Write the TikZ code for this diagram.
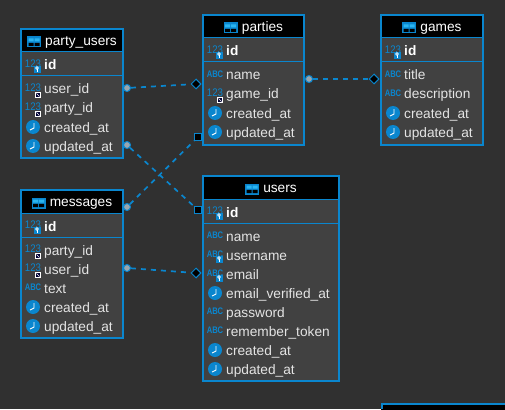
\documentclass[tikz,border=0pt]{standalone}
\usepackage{fontspec}
\setmainfont{Liberation Sans}
\usetikzlibrary{shapes.geometric}

\definecolor{canvasgray}{HTML}{303030}
\definecolor{bodygray}{HTML}{414141}
\definecolor{linkblue}{HTML}{0A86CE}
\definecolor{cellblue}{HTML}{2BB5F0}
\definecolor{dotgray}{HTML}{9AA6AE}
\definecolor{rowtext}{HTML}{E4E4E4}

\tikzset{
	tablebox/.style={draw=linkblue, line width=2pt, fill=bodygray, anchor=north west, inner sep=0pt, outer sep=0pt},
	headbox/.style={fill=black, anchor=north west, inner sep=0pt, outer sep=0pt},
	titletext/.style={text=white, font=\fontsize{13.7}{15}\selectfont, inner sep=0pt, text height=10pt, text depth=3pt},
	idtext/.style={text=white, font=\bfseries\fontsize{13.7}{15}\selectfont, anchor=west, inner sep=0pt, text height=10pt, text depth=3pt},
	rowlabel/.style={text=rowtext, font=\fontsize{13.7}{15}\selectfont, anchor=west, inner sep=0pt, text height=10pt, text depth=3pt},
	link/.style={draw=linkblue, line width=1.7pt, dash pattern=on 5pt off 5pt},
	linkdot/.style={circle, draw=linkblue, fill=dotgray, line width=1pt, minimum size=7pt, inner sep=0pt},
	linkdiamond/.style={diamond, draw=linkblue, fill=black, line width=1pt, minimum size=10pt, inner sep=0pt},
	linksquare/.style={rectangle, draw=linkblue, fill=black, line width=1pt, minimum size=7pt, inner sep=0pt},
	pics/numplain/.style={code={
		\node[text=linkblue, font=\fontsize{11}{12}\selectfont, xscale=.88, transform shape, inner sep=0pt] at (0,-1) {123};
	}},
	pics/keybadge/.style={code={
		\fill[linkblue] (0.5,-1) rectangle (7.5,6);
		\draw[white, line width=.8pt] (4,1) circle (1.4);
		\draw[white, line width=.8pt] (4,2.4) -- (4,5);
	}},
	pics/fkbadge/.style={code={
		\fill[white] (1,0) rectangle (7,6);
		\fill[black!80!blue] (2,1) rectangle (6,5);
		\draw[white, line width=.7pt] (2.5,1.5) -- (5.5,4.5);
	}},
	pics/numkey/.style={code={
		\pic at (0,0) {numplain};
		\pic at (0,2) {keybadge};
	}},
	pics/numfk/.style={code={
		\pic at (0,0) {numplain};
		\pic at (1,3) {fkbadge};
	}},
	pics/abc/.style={code={
		\node[text=linkblue, font=\bfseries\fontsize{9.5}{10}\selectfont, xscale=.8, transform shape, inner sep=0pt] at (0,-1) {ABC};
	}},
	pics/abckey/.style={code={
		\pic at (0,0) {abc};
		\pic at (0,2) {keybadge};
	}},
	pics/clock/.style={code={
		\fill[linkblue] (0,0) circle (7);
		\draw[white, line width=.9pt] (1,-4) -- (1,1) -- (-3,3);
	}},
	pics/tableicon/.style={code={
		\fill[linkblue] (-7,-5.5) rectangle (7,5.5);
		\fill[cellblue] (-5.5,-3.5) rectangle (-.5,-.5) (.5,-3.5) rectangle (5.5,-.5);
		\fill[black] (-5.5,.8) rectangle (-.5,4) (.5,.8) rectangle (5.5,4);
	}},
}

% name, title, left, top, width, height, id icon, rows
\newcommand{\dbtable}[8]{
	\node[tablebox, minimum width=#5pt, minimum height=#6pt] (#1) at (#3,#4) {};
	\fill[black] (#3+1,#4+1) rectangle (#3+#5-1,#4+23);
	\draw[linkblue, line width=1pt] (#3,#4+23) -- +(#5,0);
	\draw[linkblue, line width=1pt] (#3,#4+47) -- +(#5,0);
	\node[titletext] (#1-title) at (#3+#5/2+9,#4+13) {#2};
	\path (#1-title.west) pic[xshift=-11pt] {tableicon};
	\pic at (#3+12,#4+36) {#7};
	\node[idtext] (#1-id) at (#3+23,#4+37.5) {id};
	\foreach \ico/\txt [count=\n from 0] in {#8} {
		\pgfmathsetmacro{\rowy}{#4+60+19*\n}
		\pic at (#3+12,\rowy) {\ico};
		\node[rowlabel] (#1-row\n) at (#3+23,\rowy+1.5) {\txt};
	}
}

\begin{document}
\begin{tikzpicture}[x=1pt, y=-1pt]
	\fill[canvasgray] (0,0) rectangle (505,409);
	\useasboundingbox (0,0) rectangle (505,409);

	% tables
	\dbtable{partyusers}{party\_users}{21}{29}{102}{129}{numkey}{numfk/user\_id, numfk/party\_id, clock/created\_at, clock/updated\_at}
	\dbtable{parties}{parties}{203}{15}{101}{130}{numkey}{abc/name, numfk/game\_id, clock/created\_at, clock/updated\_at}
	\dbtable{games}{games}{381}{15}{102}{130}{numkey}{abc/title, abc/description, clock/created\_at, clock/updated\_at}
	\dbtable{messages}{messages}{21}{190}{102}{148}{numkey}{numfk/party\_id, numfk/user\_id, abc/text, clock/created\_at, clock/updated\_at}
	\dbtable{users}{users}{203}{176}{136}{205}{numkey}{abc/name, abckey/username, abckey/email, clock/email\_verified\_at, abc/password, abc/remember\_token, clock/created\_at, clock/updated\_at}

	% table cut off by the bottom edge
	\node[headbox, minimum width=126pt, minimum height=8pt] (nextbar) at (381,403) {};
	\draw[linkblue, line width=2pt] (382,409) -- (382,404) -- (505,404);

	% link ends
	\node[linkdot] (pu-user) at (127,88) {};
	\node[linkdiamond] (pa-in) at (196,84) {};
	\node[linkdot] (pu-upd) at (127,145) {};
	\node[linksquare] (us-id) at (198,210) {};
	\node[linkdot] (ms-out) at (127,207) {};
	\node[linksquare] (pa-upd) at (198,137) {};
	\node[linkdot] (ms-user) at (127,268) {};
	\node[linkdiamond] (us-email) at (196,273) {};
	\node[linkdot] (pa-game) at (309,79) {};
	\node[linkdiamond] (ga-title) at (374,79) {};

	% links
	\draw[link] (pu-user) -- (pa-in);
	\draw[link] (pu-upd) -- (us-id);
	\draw[link] (ms-out) -- (pa-upd);
	\draw[link] (ms-user) -- (us-email);
	\draw[link] (pa-game) -- (ga-title);
\end{tikzpicture}
\end{document}
